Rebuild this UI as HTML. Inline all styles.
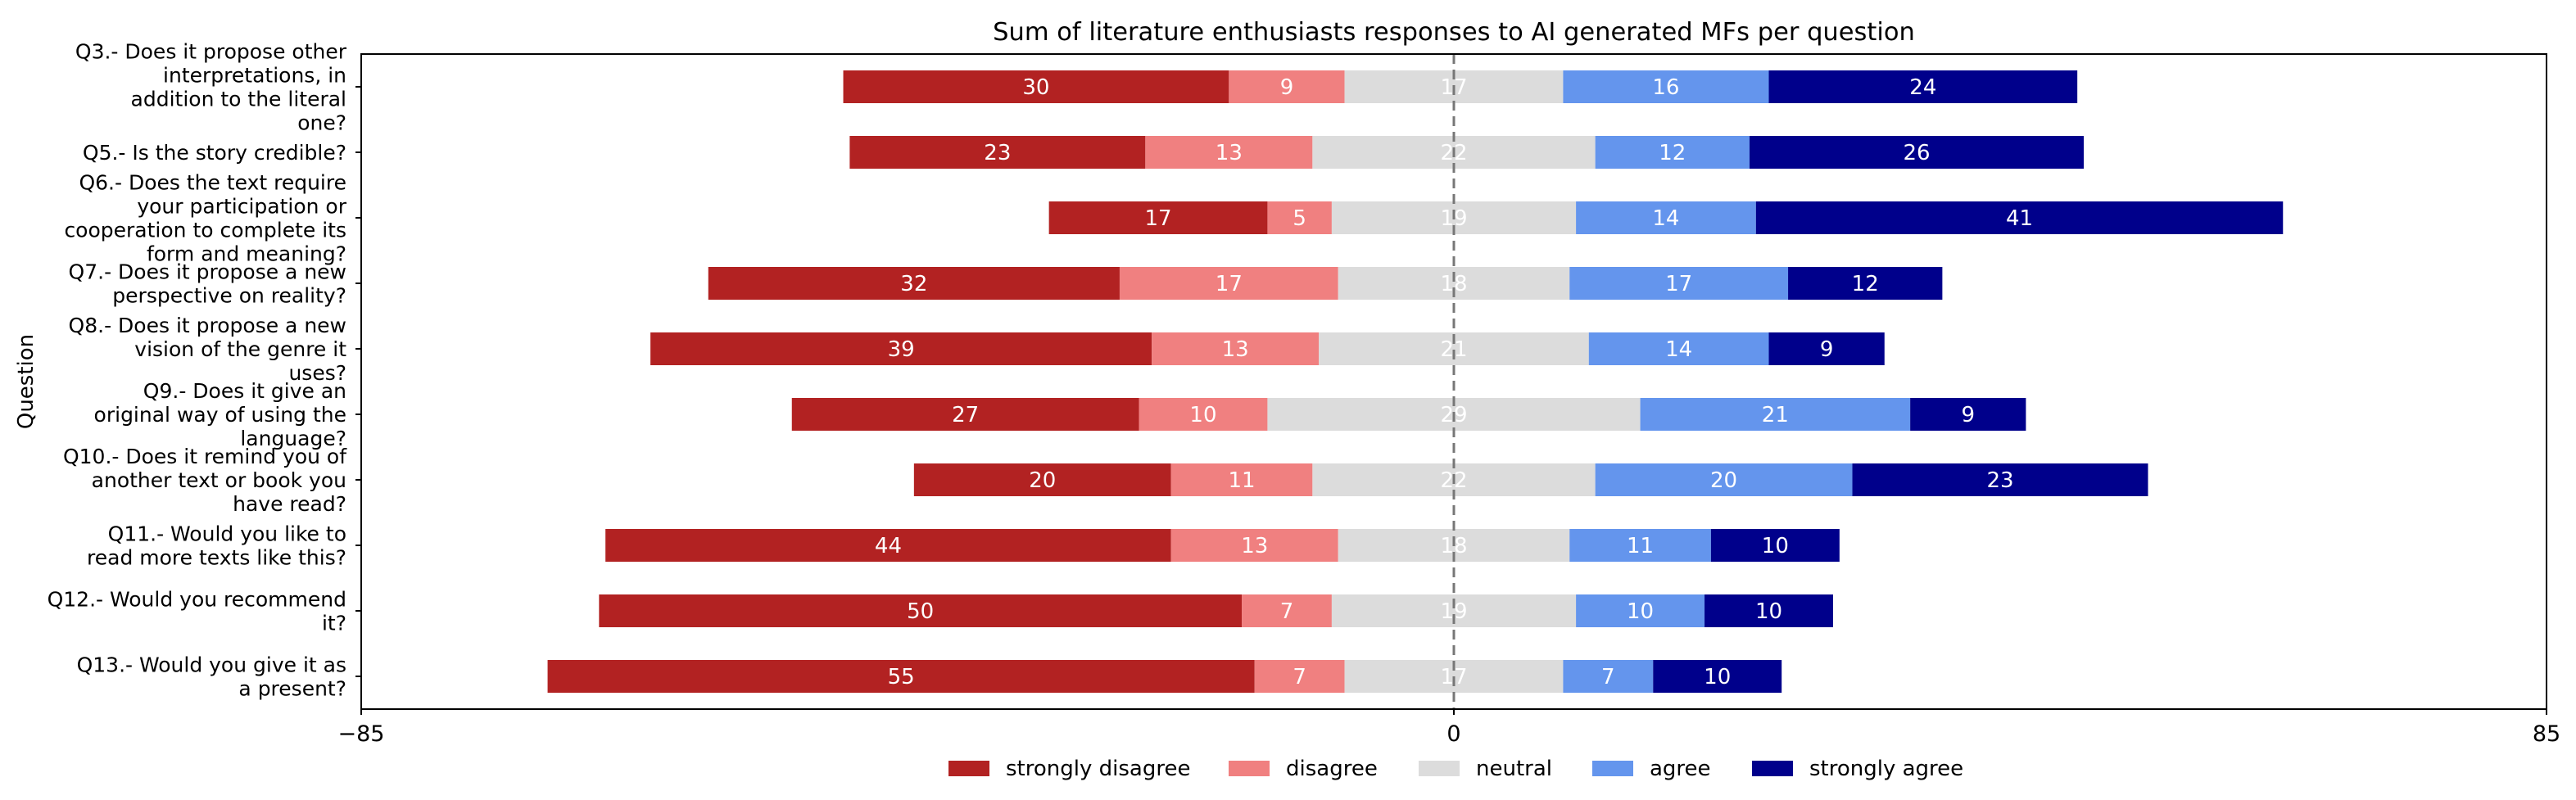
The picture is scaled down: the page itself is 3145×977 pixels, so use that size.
<!DOCTYPE html>
<html><head><meta charset="utf-8"><style>
html,body{margin:0;padding:0;background:#fff;}
svg{display:block;font-family:"DejaVu Sans","Liberation Sans",sans-serif;}
</style></head><body>
<svg id="chart" width="3145" height="977" viewBox="0 0 3145 977">
<rect width="3145" height="977" fill="#fff"/>
<text x="1775" y="49" font-size="30.5" text-anchor="middle">Sum of literature enthusiasts responses to AI generated MFs per question</text>
<text transform="translate(40,466) rotate(-90)" font-size="26" text-anchor="middle">Question</text>
<g id="bars"></g>
<g id="labels"></g>
<line x1="1775" y1="66" x2="1775" y2="866" stroke="#777" stroke-width="3" stroke-dasharray="12,7"/>
<rect x="441" y="66" width="2668" height="800" fill="none" stroke="#000" stroke-width="2"/>
<g id="axes"></g>
<g id="legend"></g>
</svg>
<script>
const categories=[
["Q3.- Does it propose other","interpretations, in","addition to the literal","one?"],
["Q5.- Is the story credible?"],
["Q6.- Does the text require","your participation or","cooperation to complete its","form and meaning?"],
["Q7.- Does it propose a new","perspective on reality?"],
["Q8.- Does it propose a new","vision of the genre it","uses?"],
["Q9.- Does it give an","original way of using the","language?"],
["Q10.- Does it remind you of","another text or book you","have read?"],
["Q11.- Would you like to","read more texts like this?"],
["Q12.- Would you recommend","it?"],
["Q13.- Would you give it as","a present?"]];
const stronglyDisagree=[30,23,17,32,39,27,20,44,50,55];
const disagree=[9,13,5,17,13,10,11,13,7,7];
const neutral=[17,22,19,18,21,29,22,18,19,17];
const agree=[16,12,14,17,14,21,20,11,10,7];
const stronglyAgree=[24,26,41,12,9,9,23,10,10,10];
const seriesNames=["strongly disagree","disagree","neutral","agree","strongly agree"];
const colors=["#b22222","#f08080","#dcdcdc","#6495ed","#00008b"];
const xTicks=[-85,0,85];
const NS="http://www.w3.org/2000/svg";
const L=441,R=3109,T=66,B=866;
const xs=v=>L+(v+85)/170*(R-L);
const ys=i=>T+(i+0.5)*(B-T)/categories.length;
const bh=0.5*(B-T)/categories.length;
function mk(tag,attrs,parent){const e=document.createElementNS(NS,tag);for(const k in attrs)e.setAttribute(k,attrs[k]);parent.appendChild(e);return e;}
const bars=document.getElementById('bars'),labels=document.getElementById('labels'),axes=document.getElementById('axes'),legend=document.getElementById('legend');
const all=[stronglyDisagree,disagree,neutral,agree,stronglyAgree];
categories.forEach((lines,i)=>{
  const vals=all.map(s=>s[i]);
  let start=-(vals[0]+vals[1]+vals[2]/2);
  const y=ys(i);
  vals.forEach((v,j)=>{
    const r=mk('rect',{x:xs(start),y:y-bh/2,width:xs(start+v)-xs(start),height:bh,fill:colors[j]},bars);
    
    
    const t=mk('text',{x:xs(start+v/2),y:y+9,'font-size':26,fill:'#fff','text-anchor':'middle'},bars);
    t.textContent=v;
    
    
    start+=v;
  });
  const lh=29,n=lines.length;
  const g=mk('text',{'font-size':25,'text-anchor':'end'},labels);
  
  
  lines.forEach((ln,k)=>{const ts=mk('tspan',{x:423,y:y+9+(k-(n-1)/2)*lh},g);ts.textContent=ln;});
  const tk=mk('line',{x1:434,x2:441,y1:y,y2:y,stroke:'#000','stroke-width':2},axes);
  
  
});
xTicks.forEach(v=>{
  const tk=mk('line',{x1:xs(v),x2:xs(v),y1:866,y2:873,stroke:'#000','stroke-width':2},axes);
  
  
  const t=mk('text',{x:xs(v),y:905,'font-size':27,'text-anchor':'middle'},axes);
  t.textContent=v<0?'\u2212'+Math.abs(v):String(v);
  
  
});
const legX=[1158,1500,1732,1944,2139];
seriesNames.forEach((nm,j)=>{
  const g=mk('g',{},legend);
  
  
  mk('rect',{x:legX[j],y:929,width:50,height:19,fill:colors[j]},g);
  const t=mk('text',{x:legX[j]+70,y:947,'font-size':26},g);
  t.textContent=nm;
});
</script>
</body></html>
